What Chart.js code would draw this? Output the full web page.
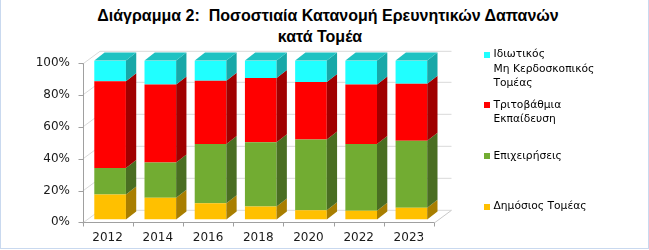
<!DOCTYPE html>
<html>
<head>
<meta charset="utf-8">
<script src="https://cdn.jsdelivr.net/npm/chart.js@4.4.1/dist/chart.umd.min.js"></script>
<style>
  html, body { margin: 0; padding: 0; background: #fff; }
  #wrap { position: relative; width: 649px; height: 250px; overflow: hidden; background: #fff; }
  #frame { position: absolute; left: 0; top: -1px; width: 649px; height: 250px; box-sizing: border-box; border: 1px solid #c9d9ef; pointer-events: none; }
  #title { position: absolute; left: 0; top: 6px; width: 640px; text-align: center; font: bold 16px "Liberation Sans", Arial, sans-serif; line-height: 20.5px; color: #000; }
  #title .l1 { position: relative; left: 8px; }
  #legend { position: absolute; left: 0; top: 0; font: 10.7px "DejaVu Sans", sans-serif; color: #000; }
  .item { position: absolute; left: 484px; line-height: 14.5px; }
  .sw { position: absolute; left: 0; top: 4.5px; width: 6px; height: 6px; }
  .txt { position: absolute; left: 9.5px; top: 0; white-space: nowrap; }
  canvas { position: absolute; left: 0; top: 0; }
</style>
</head>
<body>
<div id="wrap">
  <div id="title"><span class="l1">Διάγραμμα 2:&nbsp; Ποσοστιαία Κατανομή Ερευνητικών Δαπανών</span><br>κατά Τομέα</div>
  <canvas id="c" width="649" height="250"></canvas>
  <div id="legend"></div>
  <div id="frame"></div>
</div>
<script>
// data (percent of total)
const years = ['2012', '2014', '2016', '2018', '2020', '2022', '2023'];
const publicSector = [15.8, 13.7, 10.3, 8.2, 5.9, 5.5, 7.4];
const business = [16.6, 22.2, 37.2, 40.5, 44.5, 42.0, 42.2];
const higherEd = [54.6, 49.0, 39.9, 40.4, 36.2, 37.4, 35.9];
const privateNonProfit = [13.0, 15.1, 12.6, 10.9, 13.4, 15.1, 14.5];
const yTicks = [0, 20, 40, 60, 80, 100];

const seriesNames = [
  ['Δημόσιος Τομέας'],
  ['Επιχειρήσεις'],
  ['Τριτοβάθμια', 'Εκπαίδευση'],
  ['Ιδιωτικός', 'Μη Κερδοσκοπικός', 'Τομέας']
];

// front, side and top face colours per series
const faceColors = ['#FFC000', '#72AC32', '#FF0000', '#20FFFF'];
const sideColors = ['#A87E00', '#4A6E22', '#A00000', '#18A8A8'];
const topColors = ['#C89600', '#5A8A2A', '#C00000', '#1EC2C2'];

// 3D geometry, relative to the bar front faces
const FRONT = { dx: -2.5, dy: 2.7 };
const BACK = { dx: 15, dy: -10.2 };
const DEPTH = { dx: 10.3, dy: -8 };

const threeD = {
  id: 'threeD',
  beforeDatasetsDraw(chart) {
    const { ctx, chartArea: a, scales: { x, y } } = chart;
    const y0 = y.getPixelForValue(0);
    ctx.save();
    ctx.lineWidth = 1;
    // back wall + side wall grid
    ctx.strokeStyle = '#d9d9d9';
    yTicks.forEach(function (v) {
      const py = Math.round(y.getPixelForValue(v)) + 0.5;
      ctx.beginPath();
      ctx.moveTo(a.left + FRONT.dx, py + FRONT.dy);
      ctx.lineTo(a.left + BACK.dx, py + BACK.dy);
      ctx.lineTo(a.right + BACK.dx, py + BACK.dy);
      ctx.stroke();
    });
    // floor right edge
    ctx.strokeStyle = '#c8c8c8';
    ctx.beginPath();
    ctx.moveTo(a.right + FRONT.dx, Math.round(y0) + 0.5 + FRONT.dy);
    ctx.lineTo(a.right + BACK.dx, Math.round(y0) + 0.5 + BACK.dy);
    ctx.stroke();
    // axes
    const ax = Math.round(a.left + FRONT.dx) + 0.5;
    const ay = Math.round(y0 + FRONT.dy) + 0.5;
    ctx.strokeStyle = '#a0a0a0';
    ctx.beginPath();
    ctx.moveTo(ax, Math.round(y.getPixelForValue(100) + FRONT.dy) + 0.5);
    ctx.lineTo(ax, ay);
    ctx.lineTo(a.right + FRONT.dx, ay);
    ctx.stroke();
    yTicks.forEach(function (v) {
      const py = Math.round(y.getPixelForValue(v) + FRONT.dy) + 0.5;
      ctx.beginPath();
      ctx.moveTo(ax - 5, py);
      ctx.lineTo(ax, py);
      ctx.stroke();
    });
    const catW = (a.right - a.left) / years.length;
    for (let i = 0; i <= years.length; i++) {
      const bx = Math.round(a.left + i * catW + FRONT.dx) + 0.5;
      ctx.beginPath();
      ctx.moveTo(bx, ay);
      ctx.lineTo(bx, ay + 4);
      ctx.stroke();
    }
    ctx.restore();
  },
  afterDatasetsDraw(chart) {
    const ctx = chart.ctx;
    const last = chart.data.datasets.length - 1;
    ctx.save();
    chart.data.datasets.forEach(function (ds, di) {
      chart.getDatasetMeta(di).data.forEach(function (el) {
        const p = el.getProps(['x', 'y', 'base', 'width'], true);
        const xl = p.x - p.width / 2, xr = p.x + p.width / 2;
        const top = Math.min(p.y, p.base), bot = Math.max(p.y, p.base);
        ctx.fillStyle = sideColors[di];
        ctx.beginPath();
        ctx.moveTo(xr, top);
        ctx.lineTo(xr + DEPTH.dx, top + DEPTH.dy);
        ctx.lineTo(xr + DEPTH.dx, bot + DEPTH.dy);
        ctx.lineTo(xr, bot);
        ctx.closePath();
        ctx.fill();
        if (di === last) {
          ctx.fillStyle = topColors[di];
          ctx.beginPath();
          ctx.moveTo(xl, top);
          ctx.lineTo(xr, top);
          ctx.lineTo(xr + DEPTH.dx, top + DEPTH.dy);
          ctx.lineTo(xl + DEPTH.dx, top + DEPTH.dy);
          ctx.closePath();
          ctx.fill();
        }
      });
    });
    ctx.restore();
  }
};

const seriesValues = [publicSector, business, higherEd, privateNonProfit];
const tickFont = { family: 'DejaVu Sans', size: 12 };

new Chart(document.getElementById('c'), {
  type: 'bar',
  data: {
    labels: years,
    datasets: seriesValues.map(function (vals, i) {
      return {
        label: seriesNames[i].join(' '),
        data: vals,
        backgroundColor: faceColors[i],
        borderWidth: 0,
        barPercentage: 0.63,
        categoryPercentage: 1
      };
    })
  },
  options: {
    responsive: false,
    animation: false,
    devicePixelRatio: 1,
    layout: { padding: { left: 0, top: 60.6, right: 212.5, bottom: 0 } },
    plugins: { legend: { display: false }, tooltip: { enabled: false }, title: { display: false } },
    scales: {
      x: {
        stacked: true,
        grid: { display: false, drawTicks: false },
        border: { display: false },
        ticks: { color: '#1a1a1a', font: tickFont, padding: 11, labelOffset: -2.5, maxRotation: 0 },
        afterFit: function (s) { s.height = 30.4; }
      },
      y: {
        stacked: true,
        min: 0,
        max: 100,
        grid: { display: false, drawTicks: false },
        border: { display: false },
        ticks: {
          stepSize: 20, color: '#1a1a1a', font: tickFont, padding: 15, labelOffset: 2.7,
          callback: function (v) { return v + '%'; }
        },
        afterFit: function (s) { s.width = 85; }
      }
    }
  },
  plugins: [threeD]
});

// legend, top entry first like the original
const legend = document.getElementById('legend');
const legendTop = 47, legendStep = 50.8;
[3, 2, 1, 0].forEach(function (si, k) {
  const item = document.createElement('div');
  item.className = 'item';
  item.style.top = (legendTop + k * legendStep) + 'px';
  const sw = document.createElement('div');
  sw.className = 'sw';
  sw.style.background = faceColors[si];
  const txt = document.createElement('div');
  txt.className = 'txt';
  txt.innerHTML = seriesNames[si].join('<br>');
  item.appendChild(sw);
  item.appendChild(txt);
  legend.appendChild(item);
});
</script>
</body>
</html>
